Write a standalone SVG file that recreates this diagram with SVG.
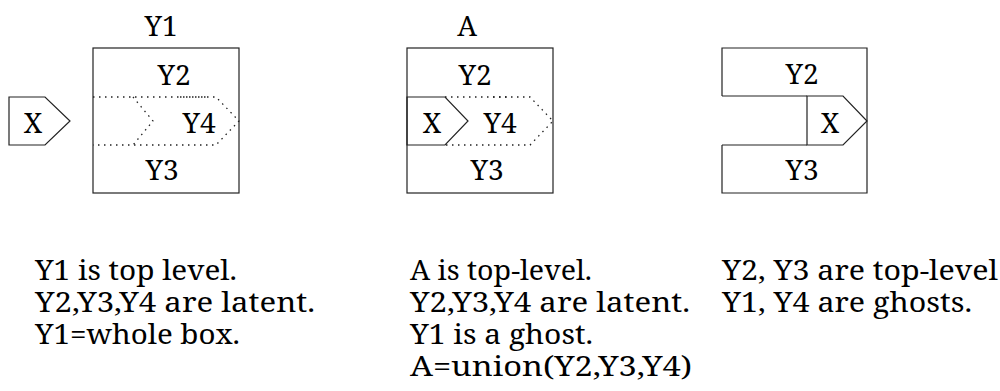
<svg xmlns="http://www.w3.org/2000/svg" width="1000" height="391" viewBox="0 0 1000 391">
<style>
text{font-family:"Noto Serif","Liberation Serif","DejaVu Serif",serif;font-size:28px;fill:#000}
.c{text-anchor:middle}
.s{fill:none;stroke:#222;stroke-width:1.2}
.d{fill:none;stroke:#222;stroke-width:1.3;stroke-dasharray:1.5 4.5}
</style>
<rect width="1000" height="391" fill="#fff"/>
<g id="connectors"/>
<g id="panel1">
  <g id="p1-Y1"><rect class="s" x="93" y="48" width="146" height="145"/><text class="c" x="161" y="36">Y1</text></g>
  <g id="p1-Y2"><text class="c" x="174" y="85">Y2</text></g>
  <g id="p1-Y4">
    <polyline class="d" points="93,97 216,97 239,121 216,145 93,145"/>
    <line class="d" x1="177" y1="97" x2="207" y2="97" stroke-dashoffset="3"/>
    <polyline class="d" points="133,97 153,121 133,145"/>
    <text class="c" x="199" y="133">Y4</text>
  </g>
  <g id="p1-Y3"><text class="c" x="162" y="180">Y3</text></g>
  <g id="p1-X"><polygon class="s" points="9,97 45,97 70,121 45,145 9,145"/><text class="c" x="33" y="133">X</text></g>
</g>
<g id="panel2">
  <g id="p2-A"><rect class="s" x="407" y="48" width="146" height="145"/><text class="c" x="467" y="36">A</text></g>
  <g id="p2-Y2"><text class="c" x="475" y="85">Y2</text></g>
  <g id="p2-Y4">
    <polyline class="d" points="445,97 530,97 553,121 530,145 445,145"/>
    <line class="d" x1="490" y1="97" x2="510" y2="97" stroke-dashoffset="3"/>
    <text class="c" x="500" y="133">Y4</text>
  </g>
  <g id="p2-Y3"><text class="c" x="487" y="180">Y3</text></g>
  <g id="p2-X"><polygon class="s" points="407,97 445,97 468,121 445,145 407,145"/><text class="c" x="432" y="133">X</text></g>
</g>
<g id="panel3">
  <g id="p3-Y2"><path class="s" d="M722,96 V48 H867 V121 M722,96 H807"/><text class="c" x="802" y="84">Y2</text></g>
  <g id="p3-Y3"><path class="s" d="M722,145 V193 H867 V121 M722,145 H807"/><text class="c" x="802" y="180">Y3</text></g>
  <g id="p3-X"><polygon class="s" points="807,96 843,96 867,121 843,145 807,145"/><text class="c" x="830" y="133">X</text></g>
</g>
<g id="notes">
  <text id="note1" x="35" y="280"><tspan x="35" y="280" textLength="202" lengthAdjust="spacingAndGlyphs">Y1 is top level.</tspan><tspan x="35" y="312" textLength="280" lengthAdjust="spacingAndGlyphs">Y2,Y3,Y4 are latent.</tspan><tspan x="35" y="344" textLength="205" lengthAdjust="spacingAndGlyphs">Y1=whole box.</tspan></text>
  <text id="note2" x="410" y="280"><tspan x="410" y="280" textLength="182" lengthAdjust="spacingAndGlyphs">A is top-level.</tspan><tspan x="410" y="312" textLength="280" lengthAdjust="spacingAndGlyphs">Y2,Y3,Y4 are latent.</tspan><tspan x="410" y="344" textLength="183" lengthAdjust="spacingAndGlyphs">Y1 is a ghost.</tspan><tspan x="410" y="376" textLength="282" lengthAdjust="spacingAndGlyphs">A=union(Y2,Y3,Y4)</tspan></text>
  <text id="note3" x="722" y="280"><tspan x="722" y="280" textLength="276" lengthAdjust="spacingAndGlyphs">Y2, Y3 are top-level</tspan><tspan x="722" y="312" textLength="250" lengthAdjust="spacingAndGlyphs">Y1, Y4 are ghosts.</tspan></text>
</g>
</svg>
